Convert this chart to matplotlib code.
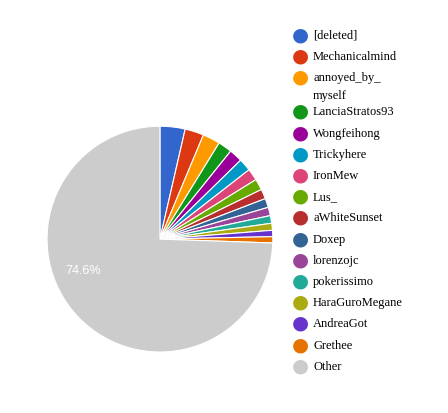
import matplotlib.pyplot as plt

labels = ["[deleted]", "Mechanicalmind", "annoyed_by_\nmyself", "LanciaStratos93", "Wongfeihong",
          "Trickyhere", "IronMew", "Lus_", "aWhiteSunset", "Doxep", "lorenzojc", "pokerissimo",
          "HaraGuroMegane", "AndreaGot", "Grethee", "Other"]
values = [3.6, 2.7, 2.5, 2.0, 1.9, 1.8, 1.7, 1.6, 1.4, 1.3, 1.2, 1.1, 1.0, 0.9, 0.9, 74.6]
colors = ["#3366cc", "#dc3912", "#ff9900", "#109618", "#990099", "#0099c6", "#dd4477", "#66aa00",
          "#b82e2e", "#316395", "#994499", "#22aa99", "#aaaa11", "#6633cc", "#e67300", "#cccccc"]

fig = plt.figure(figsize=(4.48, 4.14), dpi=100)
ax = fig.add_axes([0.105, 0.147, 0.504, 0.546])
ax.pie(values, colors=colors, startangle=90, counterclock=False,
       wedgeprops=dict(edgecolor="white", linewidth=0.8))
ax.set_xlim(-1, 1)
ax.set_ylim(-1, 1)
ax.set_aspect("equal")
ax.text(-0.68, -0.27, "74.6%", color="white", fontsize=9, family="Liberation Sans", ha="center", va="center")

y = 35
for lab, c in zip(labels, colors):
    fig.text(300 / 448, 1 - y / 414, "\u25cf", color=c, fontsize=14, ha="center", va="center",
             family="DejaVu Sans")
    fig.text(313 / 448, 1 - (y + 1) / 414, lab.split("\n")[0], fontsize=9, ha="left", va="center",
             family="Liberation Serif")
    if "\n" in lab:
        fig.text(313 / 448, 1 - (y + 19) / 414, lab.split("\n")[1], fontsize=9, ha="left", va="center",
                 family="Liberation Serif")
        y += 34
    else:
        y += 21.2

fig.savefig("out.png")
